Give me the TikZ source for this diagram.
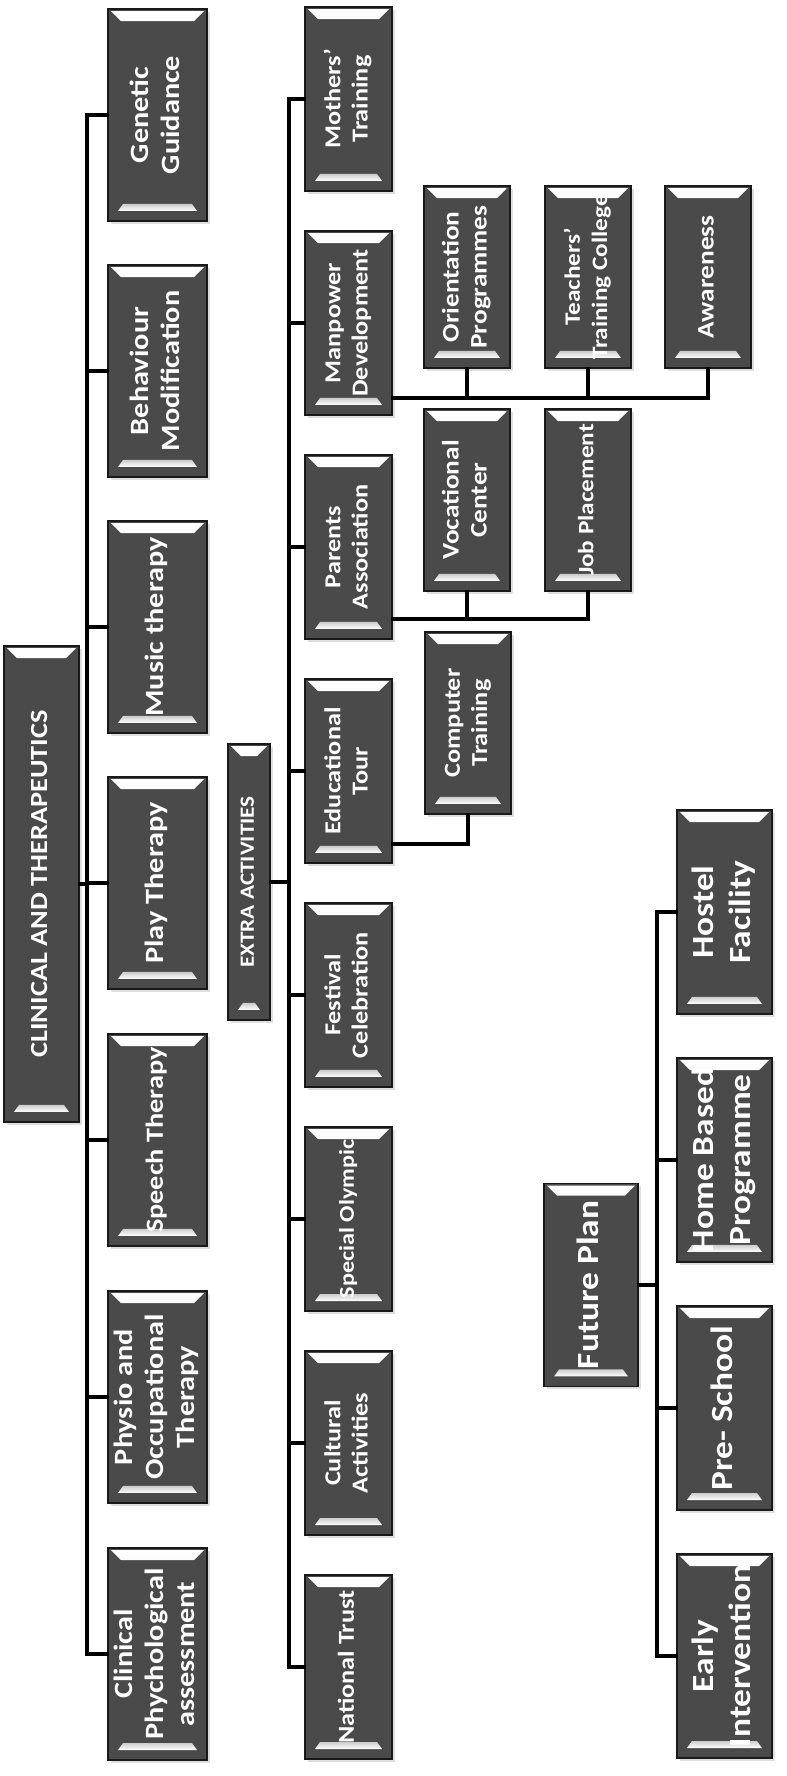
\documentclass[tikz,border=0pt]{standalone}
\usepackage{fontspec}
\setmainfont{Carlito}[FakeStretch=1.15]
\usepackage{graphicx}
\usetikzlibrary{calc,shadows}
\definecolor{boxgray}{HTML}{4A4A4A}
% text turned to read upwards, without widening the box
\newcommand{\vlbl}[1]{\rotatebox{90}{\makebox[0pt]{\begin{tabular}{@{}c@{}}#1\end{tabular}}}}

\tikzset{
    bevel/.style={draw=black!90, line width=1pt, fill=boxgray, text=white, inner sep=0pt,
        drop shadow={opacity=0.25, shadow xshift=1.5pt, shadow yshift=-1.5pt},
        path picture={
            \shade[top color=white, bottom color=gray!45]
                ([shift={(3,2)}]path picture bounding box.north west) --
                ([shift={(-3,2)}]path picture bounding box.north east) --
                ([shift={(-13,12)}]path picture bounding box.north east) --
                ([shift={(13,12)}]path picture bounding box.north west) -- cycle;
            \shade[top color=gray!40, bottom color=white]
                ([shift={(15,-17)}]path picture bounding box.south west) --
                ([shift={(-15,-17)}]path picture bounding box.south east) --
                ([shift={(-10,-10)}]path picture bounding box.south east) --
                ([shift={(10,-10)}]path picture bounding box.south west) -- cycle;
        }},
    rootbox/.style={bevel, minimum width=1.5cm, minimum height=9.52cm, font=\bfseries\fontsize{14}{16}\selectfont},
    cbox/.style={bevel, minimum width=1.98cm, minimum height=4.24cm, font=\bfseries\fontsize{15}{17.5}\selectfont},
    xbox/.style={bevel, minimum width=0.84cm, minimum height=5.52cm, font=\bfseries\fontsize{11.5}{14}\selectfont},
    ebox/.style={bevel, minimum width=1.74cm, minimum height=3.68cm, font=\bfseries\fontsize{13}{15.5}\selectfont},
    sbox/.style={bevel, minimum width=1.72cm, minimum height=3.64cm, font=\bfseries\fontsize{13.5}{16}\selectfont},
    fbox/.style={bevel, minimum width=1.9cm, minimum height=4.08cm, font=\bfseries\fontsize{17.5}{21.5}\selectfont},
    smaller/.style={font=\bfseries\fontsize{#1}{15.5}\selectfont},
    conn/.style={line width=2pt, line cap=rect},
}

\begin{document}
\begin{tikzpicture}[x=0.02cm, y=-0.02cm]

    \fill[white] (0,0) rectangle (787,1776);
    \useasboundingbox (0,0) rectangle (787,1776);

    % clinical and therapeutics
    \node[rootbox] (cat) at (41.5,884) {\vlbl{CLINICAL AND THERAPEUTICS}};

    \node[cbox] (gg)  at (157.5,115)  {\vlbl{Genetic\\Guidance}};
    \node[cbox] (bm)  at (157.5,371)  {\vlbl{Behaviour\\Modification}};
    \node[cbox] (mt)  at (157.5,627)  {\vlbl{Music therapy}};
    \node[cbox] (pt)  at (157.5,883)  {\vlbl{Play Therapy}};
    \node[cbox, smaller=14] (st)  at (157.5,1140) {\vlbl{Speech Therapy}};
    \node[cbox] (pot) at (157.5,1397) {\vlbl{Physio and\\Occupational\\Therapy}};
    \node[cbox] (cpa) at (157.5,1654) {\vlbl{Clinical\\Phychological\\assessment}};

    \coordinate (ctr) at (87,0);
    \foreach \n in {gg,bm,mt,pt,st,pot,cpa}
        \draw[conn] (\n.west) -- (\n.west -| ctr);
    \draw[conn] (gg.west -| ctr) -- (cpa.west -| ctr);
    \draw[conn] (cat.east) -- (cat.east -| ctr);

    % extra activities
    \node[xbox] (ea) at (249,882) {\vlbl{EXTRA ACTIVITIES}};

    \node[ebox] (mot) at (348.5,99)   {\vlbl{Mothers'\\Training}};
    \node[ebox] (md)  at (348.5,323)  {\vlbl{Manpower\\Development}};
    \node[ebox] (pa)  at (348.5,547)  {\vlbl{Parents\\Association}};
    \node[ebox] (et)  at (348.5,771)  {\vlbl{Educational\\Tour}};
    \node[ebox] (fc)  at (348.5,995)  {\vlbl{Festival\\Celebration}};
    \node[ebox, smaller=12] (so)  at (348.5,1219) {\vlbl{Special Olympic}};
    \node[ebox] (ca)  at (348.5,1443) {\vlbl{Cultural\\Activities}};
    \node[ebox] (nt)  at (348.5,1667) {\vlbl{National Trust}};

    \coordinate (etr) at (289,0);
    \foreach \n in {mot,md,pa,et,fc,so,ca,nt}
        \draw[conn] (\n.west) -- (\n.west -| etr);
    \draw[conn] (mot.west -| etr) -- (nt.west -| etr);
    \draw[conn] (ea.east) -- (ea.east -| etr);

    % sub-branches
    \node[sbox] (op) at (467,277) {\vlbl{Orientation\\Programmes}};
    \node[sbox, smaller=12.5] (tc) at (588,277) {\vlbl{Teachers'\\Training College}};
    \node[sbox] (aw) at (708,277) {\vlbl{Awareness}};
    \node[sbox] (vc) at (467,500) {\vlbl{Vocational\\Center}};
    \node[sbox, smaller=12.5] (jp) at (588,500) {\vlbl{Job Placement}};
    \node[sbox, smaller=13] (ct) at (468,723) {\vlbl{Computer\\Training}};

    \coordinate (mdout) at ($(md.south east)+(0,-18)$);
    \draw[conn] (mdout) -| (aw.south);
    \draw[conn] (op.south) -- (op.south |- mdout);
    \draw[conn] (tc.south) -- (tc.south |- mdout);

    \coordinate (paout) at ($(pa.south east)+(0,-21)$);
    \draw[conn] (paout) -| (jp.south);
    \draw[conn] (vc.south) -- (vc.south |- paout);

    \coordinate (etout) at ($(et.south east)+(0,-20)$);
    \draw[conn] (etout) -| (ct.south);

    % future plan
    \node[fbox, minimum width=1.88cm, minimum height=4.06cm] (fp) at (591,1285) {\vlbl{Future Plan}};

    \node[fbox] (hf) at (724.5,912)  {\vlbl{Hostel\\Facility}};
    \node[fbox] (hb) at (724.5,1160) {\vlbl{Home Based\\Programme}};
    \node[fbox] (ps) at (724.5,1408) {\vlbl{Pre- School}};
    \node[fbox] (ei) at (724.5,1656) {\vlbl{Early\\Intervention}};

    \coordinate (ftr) at (657,0);
    \foreach \n in {hf,hb,ps,ei}
        \draw[conn] (\n.west) -- (\n.west -| ftr);
    \draw[conn] (hf.west -| ftr) -- (ei.west -| ftr);
    \draw[conn] (fp.east) -- (fp.east -| ftr);

\end{tikzpicture}
\end{document}
